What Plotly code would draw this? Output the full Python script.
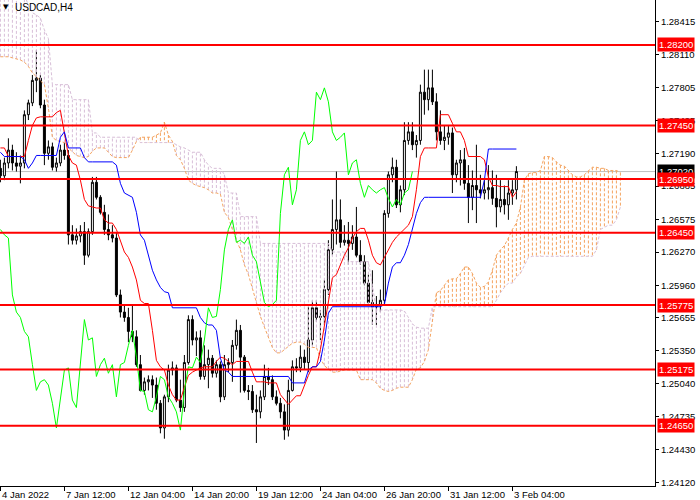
import plotly.graph_objects as go

# ---------------- data (USDCAD, H4) ----------------
open_ = [1.2705, 1.2698, 1.2710, 1.2722, 1.2710, 1.2707, 1.2710, 1.2755, 1.2766, 1.2787,
         1.2789, 1.2764, 1.2719, 1.2725, 1.2706, 1.2710, 1.2722, 1.2717, 1.2643, 1.2638,
         1.2642, 1.2646, 1.2624, 1.2646, 1.2692, 1.2678, 1.2664, 1.2648, 1.2643, 1.2640,
         1.2587, 1.2571, 1.2566, 1.2553, 1.2548, 1.2522, 1.2498, 1.2506, 1.2508, 1.2503,
         1.2486, 1.2463, 1.2492, 1.2517, 1.2519, 1.2489, 1.2482, 1.2524, 1.2564, 1.2545,
         1.2547, 1.2511, 1.2522, 1.2528, 1.2514, 1.2522, 1.2492, 1.2522, 1.2524, 1.2540,
         1.2554, 1.2529, 1.2498, 1.2497, 1.2480, 1.2478, 1.2492, 1.2511, 1.2508, 1.2492,
         1.2486, 1.2478, 1.2461, 1.2498, 1.2520, 1.2519, 1.2529, 1.2524, 1.2545, 1.2575,
         1.2566, 1.2567, 1.2592, 1.2629, 1.2648, 1.2657, 1.2636, 1.2638, 1.2635, 1.2641,
         1.2624, 1.2618, 1.2598, 1.2580, 1.2576, 1.2578, 1.2582, 1.2663, 1.2699, 1.2706,
         1.2671, 1.2685, 1.2731, 1.2739, 1.2727, 1.2731, 1.2776, 1.2769, 1.2780, 1.2767,
         1.2739, 1.2731, 1.2734, 1.2738, 1.2699, 1.2710, 1.2713, 1.2691, 1.2678, 1.2689,
         1.2685, 1.2682, 1.2685, 1.2687, 1.2677, 1.2669, 1.2676, 1.2671, 1.2682, 1.2685]
high = [1.2713, 1.2715, 1.2733, 1.2727, 1.2720, 1.2717, 1.2759, 1.2769, 1.2792, 1.2815,
        1.2792, 1.2769, 1.2731, 1.2729, 1.2715, 1.2727, 1.2729, 1.2722, 1.2652, 1.2649,
        1.2652, 1.2655, 1.2649, 1.2697, 1.2697, 1.2680, 1.2671, 1.2662, 1.2652, 1.2645,
        1.2592, 1.2578, 1.2575, 1.2577, 1.2554, 1.2531, 1.2510, 1.2512, 1.2512, 1.2510,
        1.2489, 1.2494, 1.2522, 1.2525, 1.2522, 1.2508, 1.2531, 1.2568, 1.2568, 1.2553,
        1.2554, 1.2540, 1.2536, 1.2531, 1.2526, 1.2525, 1.2531, 1.2528, 1.2545, 1.2564,
        1.2559, 1.2531, 1.2503, 1.2503, 1.2494, 1.2498, 1.2522, 1.2519, 1.2512, 1.2498,
        1.2491, 1.2485, 1.2508, 1.2526, 1.2528, 1.2540, 1.2536, 1.2576, 1.2582, 1.2582,
        1.2573, 1.2601, 1.2638, 1.2676, 1.2702, 1.2676, 1.2652, 1.2655, 1.2652, 1.2669,
        1.2638, 1.2624, 1.2606, 1.2610, 1.2586, 1.2592, 1.2666, 1.2702, 1.2715, 1.2713,
        1.2689, 1.2748, 1.2748, 1.2748, 1.2736, 1.2783, 1.2797, 1.2797, 1.2797, 1.2775,
        1.2759, 1.2745, 1.2745, 1.2743, 1.2713, 1.2722, 1.2724, 1.2708, 1.2703, 1.2727,
        1.2699, 1.2694, 1.2708, 1.2703, 1.2699, 1.2694, 1.2689, 1.2694, 1.2694, 1.2707]
low = [1.2692, 1.2694, 1.2705, 1.2703, 1.2702, 1.2691, 1.2705, 1.2750, 1.2763, 1.2776,
       1.2761, 1.2708, 1.2713, 1.2703, 1.2702, 1.2707, 1.2713, 1.2634, 1.2634, 1.2634,
       1.2636, 1.2615, 1.2622, 1.2643, 1.2676, 1.2662, 1.2643, 1.2638, 1.2636, 1.2585,
       1.2566, 1.2562, 1.2543, 1.2543, 1.2520, 1.2497, 1.2494, 1.2498, 1.2491, 1.2480,
       1.2458, 1.2453, 1.2487, 1.2512, 1.2487, 1.2478, 1.2478, 1.2522, 1.2540, 1.2530,
       1.2508, 1.2508, 1.2500, 1.2510, 1.2510, 1.2487, 1.2489, 1.2515, 1.2506, 1.2536,
       1.2496, 1.2496, 1.2489, 1.2477, 1.2449, 1.2472, 1.2489, 1.2503, 1.2489, 1.2484,
       1.2472, 1.2452, 1.2455, 1.2497, 1.2515, 1.2515, 1.2517, 1.2515, 1.2540, 1.2562,
       1.2545, 1.2559, 1.2587, 1.2624, 1.2634, 1.2631, 1.2633, 1.2615, 1.2629, 1.2622,
       1.2615, 1.2596, 1.2578, 1.2559, 1.2559, 1.2571, 1.2578, 1.2659, 1.2692, 1.2668,
       1.2664, 1.2680, 1.2727, 1.2722, 1.2715, 1.2727, 1.2755, 1.2759, 1.2764, 1.2731,
       1.2727, 1.2722, 1.2727, 1.2682, 1.2692, 1.2689, 1.2685, 1.2654, 1.2666, 1.2654,
       1.2677, 1.2676, 1.2676, 1.2671, 1.2650, 1.2664, 1.2662, 1.2657, 1.2671, 1.2676]
close = [1.2698, 1.2710, 1.2722, 1.2710, 1.2707, 1.2710, 1.2755, 1.2766, 1.2787, 1.2789,
         1.2764, 1.2719, 1.2725, 1.2706, 1.2710, 1.2722, 1.2717, 1.2643, 1.2638, 1.2642,
         1.2646, 1.2624, 1.2646, 1.2692, 1.2678, 1.2664, 1.2648, 1.2643, 1.2640, 1.2587,
         1.2571, 1.2566, 1.2553, 1.2548, 1.2522, 1.2498, 1.2506, 1.2508, 1.2503, 1.2486,
         1.2463, 1.2492, 1.2517, 1.2519, 1.2489, 1.2482, 1.2524, 1.2564, 1.2545, 1.2547,
         1.2511, 1.2522, 1.2528, 1.2514, 1.2522, 1.2492, 1.2522, 1.2524, 1.2540, 1.2554,
         1.2529, 1.2498, 1.2497, 1.2480, 1.2478, 1.2492, 1.2511, 1.2508, 1.2492, 1.2486,
         1.2478, 1.2461, 1.2498, 1.2520, 1.2519, 1.2529, 1.2524, 1.2545, 1.2575, 1.2566,
         1.2567, 1.2592, 1.2629, 1.2648, 1.2657, 1.2636, 1.2638, 1.2635, 1.2641, 1.2624,
         1.2618, 1.2598, 1.2580, 1.2576, 1.2578, 1.2582, 1.2663, 1.2699, 1.2706, 1.2671,
         1.2685, 1.2731, 1.2739, 1.2727, 1.2731, 1.2776, 1.2769, 1.2780, 1.2767, 1.2739,
         1.2731, 1.2734, 1.2738, 1.2699, 1.2710, 1.2713, 1.2691, 1.2678, 1.2689, 1.2685,
         1.2682, 1.2685, 1.2687, 1.2677, 1.2669, 1.2676, 1.2671, 1.2682, 1.2685, 1.2702]

tenkan = [1.2724, 1.2724, 1.2716, 1.2716, 1.2716, 1.2716, 1.2716, 1.2731, 1.2745, 1.2752,
          1.2753, 1.2753, 1.2753, 1.2753, 1.2757, 1.2759, 1.2738, 1.2717, 1.2710, 1.2708,
          1.2694, 1.2676, 1.2670, 1.2669, 1.2668, 1.2668, 1.2657, 1.2654, 1.2654, 1.2648,
          1.2638, 1.2627, 1.2622, 1.2613, 1.2601, 1.2582, 1.2579, 1.2579, 1.2554, 1.2526,
          1.2520, 1.2517, 1.2503, 1.2494, 1.2489, 1.2489, 1.2501, 1.2512, 1.2515, 1.2517,
          1.2519, 1.2520, 1.2520, 1.2520, 1.2525, 1.2529, 1.2528, 1.2525, 1.2522, 1.2525,
          1.2525, 1.2525, 1.2525, 1.2515, 1.2506, 1.2506, 1.2506, 1.2505, 1.2505, 1.2505,
          1.2494, 1.2489, 1.2485, 1.2489, 1.2493, 1.2493, 1.2503, 1.2512, 1.2520, 1.2520,
          1.2536, 1.2559, 1.2578, 1.2603, 1.2606, 1.2615, 1.2624, 1.2631, 1.2640, 1.2646,
          1.2649, 1.2649, 1.2638, 1.2624, 1.2617, 1.2615, 1.2622, 1.2629, 1.2636, 1.2641,
          1.2645, 1.2648, 1.2652, 1.2660, 1.2685, 1.2716, 1.2724, 1.2724, 1.2724, 1.2724,
          1.2755, 1.2755, 1.2755, 1.2747, 1.2739, 1.2739, 1.2731, 1.2716, 1.2716, 1.2716,
          1.2716, 1.2713, 1.2697, 1.2689, 1.2689, 1.2688, 1.2688, 1.2688, 1.2678, 1.2683]
kijun = [1.2720, 1.2716, 1.2716, 1.2716, 1.2716, 1.2716, 1.2713, 1.2705, 1.2710, 1.2717,
         1.2717, 1.2717, 1.2717, 1.2717, 1.2717, 1.2734, 1.2739, 1.2724, 1.2724, 1.2724,
         1.2724, 1.2715, 1.2711, 1.2711, 1.2711, 1.2711, 1.2711, 1.2711, 1.2711, 1.2708,
         1.2691, 1.2682, 1.2680, 1.2678, 1.2664, 1.2643, 1.2638, 1.2624, 1.2610, 1.2601,
         1.2594, 1.2590, 1.2589, 1.2575, 1.2575, 1.2575, 1.2575, 1.2575, 1.2575, 1.2575,
         1.2566, 1.2561, 1.2559, 1.2559, 1.2554, 1.2528, 1.2517, 1.2515, 1.2511, 1.2511,
         1.2511, 1.2511, 1.2511, 1.2511, 1.2511, 1.2511, 1.2511, 1.2511, 1.2511, 1.2511,
         1.2511, 1.2511, 1.2511, 1.2505, 1.2505, 1.2505, 1.2505, 1.2517, 1.2520, 1.2520,
         1.2525, 1.2545, 1.2570, 1.2576, 1.2576, 1.2576, 1.2576, 1.2576, 1.2576, 1.2576,
         1.2576, 1.2576, 1.2576, 1.2576, 1.2576, 1.2576, 1.2578, 1.2598, 1.2613, 1.2617,
         1.2617, 1.2624, 1.2634, 1.2648, 1.2663, 1.2673, 1.2678, 1.2678, 1.2678, 1.2678,
         1.2678, 1.2678, 1.2678, 1.2678, 1.2678, 1.2678, 1.2678, 1.2678, 1.2678, 1.2678,
         1.2678, 1.2694, 1.2723, 1.2723, 1.2723, 1.2723, 1.2723, 1.2723, 1.2723, 1.2723]
span_a = [1.2809, 1.2809, 1.2809, 1.2808, 1.2807, 1.2806, 1.2804, 1.2800, 1.2794, 1.2790,
          1.2787, 1.2783, 1.2761, 1.2734, 1.2731, 1.2730, 1.2729, 1.2724, 1.2720, 1.2717,
          1.2716, 1.2715, 1.2716, 1.2721, 1.2724, 1.2724, 1.2724, 1.2720, 1.2716, 1.2715,
          1.2715, 1.2715, 1.2715, 1.2722, 1.2730, 1.2734, 1.2734, 1.2734, 1.2734, 1.2736,
          1.2738, 1.2748, 1.2736, 1.2730, 1.2717, 1.2713, 1.2705, 1.2694, 1.2691, 1.2689,
          1.2688, 1.2687, 1.2685, 1.2682, 1.2682, 1.2681, 1.2664, 1.2659, 1.2648, 1.2638,
          1.2629, 1.2615, 1.2606, 1.2593, 1.2579, 1.2567, 1.2557, 1.2548, 1.2538, 1.2533,
          1.2533, 1.2536, 1.2539, 1.2542, 1.2543, 1.2543, 1.2541, 1.2538, 1.2538, 1.2538,
          1.2528, 1.2521, 1.2518, 1.2515, 1.2515, 1.2516, 1.2517, 1.2517, 1.2517, 1.2517,
          1.2508, 1.2508, 1.2508, 1.2508, 1.2505, 1.2500, 1.2498, 1.2497, 1.2498, 1.2500,
          1.2501, 1.2501, 1.2501, 1.2508, 1.2518, 1.2519, 1.2525, 1.2536, 1.2562, 1.2589,
          1.2591, 1.2596, 1.2601, 1.2602, 1.2602, 1.2607, 1.2613, 1.2613, 1.2607, 1.2598,
          1.2594, 1.2595, 1.2599, 1.2610, 1.2624, 1.2629, 1.2633, 1.2640, 1.2648, 1.2654,
          1.2669, 1.2694, 1.2700, 1.2701, 1.2701, 1.2703, 1.2716, 1.2716, 1.2715, 1.2711,
          1.2708, 1.2707, 1.2703, 1.2699, 1.2697, 1.2697, 1.2699, 1.2703, 1.2706, 1.2706,
          1.2705, 1.2705, 1.2703, 1.2703, 1.2703, 1.2701]
span_b = [1.2869, 1.2869, 1.2869, 1.2869, 1.2869, 1.2869, 1.2867, 1.2857, 1.2850, 1.2848,
          1.2845, 1.2834, 1.2826, 1.2783, 1.2783, 1.2783, 1.2783, 1.2783, 1.2769, 1.2769,
          1.2769, 1.2769, 1.2769, 1.2738, 1.2738, 1.2734, 1.2734, 1.2734, 1.2734, 1.2734,
          1.2734, 1.2734, 1.2734, 1.2734, 1.2734, 1.2729, 1.2729, 1.2729, 1.2729, 1.2729,
          1.2729, 1.2729, 1.2729, 1.2729, 1.2727, 1.2725, 1.2724, 1.2722, 1.2720, 1.2720,
          1.2720, 1.2713, 1.2708, 1.2705, 1.2705, 1.2705, 1.2699, 1.2682, 1.2682, 1.2682,
          1.2660, 1.2660, 1.2660, 1.2660, 1.2660, 1.2635, 1.2635, 1.2635, 1.2635, 1.2635,
          1.2635, 1.2635, 1.2635, 1.2635, 1.2635, 1.2635, 1.2635, 1.2635, 1.2635, 1.2635,
          1.2635, 1.2635, 1.2635, 1.2627, 1.2627, 1.2627, 1.2627, 1.2618, 1.2618, 1.2618,
          1.2618, 1.2618, 1.2618, 1.2596, 1.2573, 1.2573, 1.2573, 1.2573, 1.2573, 1.2573,
          1.2573, 1.2572, 1.2566, 1.2560, 1.2557, 1.2556, 1.2556, 1.2556, 1.2576, 1.2576,
          1.2576, 1.2576, 1.2576, 1.2576, 1.2576, 1.2576, 1.2576, 1.2576, 1.2576, 1.2576,
          1.2576, 1.2576, 1.2576, 1.2576, 1.2582, 1.2589, 1.2594, 1.2598, 1.2598, 1.2604,
          1.2607, 1.2615, 1.2622, 1.2623, 1.2623, 1.2623, 1.2623, 1.2623, 1.2623, 1.2623,
          1.2623, 1.2623, 1.2623, 1.2623, 1.2623, 1.2623, 1.2623, 1.2623, 1.2623, 1.2629,
          1.2648, 1.2650, 1.2652, 1.2652, 1.2657, 1.2669]
chikou_shift = 26

levels = [1.28200, 1.27450, 1.26950, 1.26450, 1.25775, 1.25175, 1.24650]
last_price = 1.27020
price_ticks = [1.28415, 1.28110, 1.27805, 1.27495, 1.27190, 1.26885, 1.26575, 1.26270,
               1.25960, 1.25655, 1.25350, 1.25040, 1.24735, 1.24430, 1.24120]
time_tick_bars = [0, 16, 32, 48, 64, 80, 96, 112, 128]
time_tick_text = ["4 Jan 2022", "7 Jan 12:00", "12 Jan 04:00", "14 Jan 20:00", "19 Jan 12:00",
                  "24 Jan 04:00", "26 Jan 20:00", "31 Jan 12:00", "3 Feb 04:00"]
symbol_title = "USDCAD,H4"

# ---------------- figure ----------------
FONT = "Liberation Sans, Arial, sans-serif"
bars = list(range(len(close)))
cloud_bars = list(range(len(span_a)))

fig = go.Figure()

fig.add_trace(go.Candlestick(
    x=bars, open=open_, high=high, low=low, close=close,
    increasing=dict(line=dict(color="black", width=1), fillcolor="white"),
    decreasing=dict(line=dict(color="black", width=1), fillcolor="black"),
    whiskerwidth=0, showlegend=False, hoverinfo="skip"))

# cloud hatching (vertical dashed lines between span A and span B)
ux, uy, dx, dy = [], [], [], []
for i, a, b in zip(cloud_bars, span_a, span_b):
    if a >= b:
        ux += [i, i, None]; uy += [a, b, None]
    else:
        dx += [i, i, None]; dy += [a, b, None]
fig.add_trace(go.Scatter(x=ux, y=uy, mode="lines", connectgaps=False,
                         line=dict(color="#F4A460", width=1, dash="3px,2px"),
                         showlegend=False, hoverinfo="skip"))
fig.add_trace(go.Scatter(x=dx, y=dy, mode="lines", connectgaps=False,
                         line=dict(color="#D8BFD8", width=1, dash="3px,2px"),
                         showlegend=False, hoverinfo="skip"))
fig.add_trace(go.Scatter(x=cloud_bars, y=span_a, mode="lines",
                         line=dict(color="#F4A460", width=1, dash="3px,2px"),
                         showlegend=False, hoverinfo="skip"))
fig.add_trace(go.Scatter(x=cloud_bars, y=span_b, mode="lines",
                         line=dict(color="#D8BFD8", width=1, dash="3px,2px"),
                         showlegend=False, hoverinfo="skip"))

fig.add_trace(go.Scatter(x=bars, y=tenkan, mode="lines",
                         line=dict(color="#FF0000", width=1), showlegend=False, hoverinfo="skip"))
fig.add_trace(go.Scatter(x=bars, y=kijun, mode="lines",
                         line=dict(color="#0000FF", width=1), showlegend=False, hoverinfo="skip"))
fig.add_trace(go.Scatter(x=[b - chikou_shift for b in bars[chikou_shift:]],
                         y=close[chikou_shift:], mode="lines",
                         line=dict(color="#00FF00", width=1), showlegend=False, hoverinfo="skip"))

shapes = [dict(type="line", xref="paper", x0=0, x1=1, yref="y", y0=last_price, y1=last_price,
               line=dict(color="#C0C0C0", width=1), layer="below")]
for lv in levels:
    shapes.append(dict(type="line", xref="paper", x0=0, x1=1, yref="y", y0=lv, y1=lv,
                       line=dict(color="#FF0000", width=2), layer="above"))

annotations = []
annotations.append(dict(x=1, xref="paper", xanchor="left", xshift=2, y=last_price, yref="y",
                        yanchor="middle", text=f"{last_price:.5f}", showarrow=False,
                        bgcolor="#000000", borderpad=1,
                        font=dict(family=FONT, size=9.5, color="white")))
for lv in levels:
    annotations.append(dict(x=1, xref="paper", xanchor="left", xshift=2, y=lv, yref="y",
                            yanchor="middle", text=f"{lv:.5f}", showarrow=False,
                            bgcolor="#FF0000", borderpad=1,
                            font=dict(family=FONT, size=9.5, color="white")))
for b, t in zip(time_tick_bars, time_tick_text):
    annotations.append(dict(x=b, xref="x", xanchor="left", xshift=0, y=0, yref="paper",
                            yanchor="top", yshift=-1, text=t, showarrow=False,
                            font=dict(family=FONT, size=9.5, color="black")))
annotations.append(dict(x=0, xref="paper", xanchor="left", xshift=1, y=1, yref="paper",
                        yanchor="top", yshift=-1, text="▼", showarrow=False,
                        font=dict(family="DejaVu Sans", size=7, color="black")))
annotations.append(dict(x=0, xref="paper", xanchor="left", xshift=13, y=1, yref="paper",
                        yanchor="top", yshift=0, text=symbol_title, showarrow=False,
                        font=dict(family=FONT, size=10, color="black")))

fig.update_layout(
    width=700, height=500,
    margin=dict(l=0, r=45, t=0, b=14, pad=0),
    paper_bgcolor="white", plot_bgcolor="white",
    showlegend=False,
    shapes=shapes, annotations=annotations,
    xaxis=dict(range=[-0.1, 163.65], tickvals=time_tick_bars, ticks="outside", ticklen=4,
               tickcolor="black", showticklabels=False, showline=True, linecolor="black",
               linewidth=1, showgrid=False, zeroline=False, rangeslider=dict(visible=False),
               fixedrange=True),
    yaxis=dict(side="right", range=[1.24089, 1.28619], tickvals=price_ticks,
               ticktext=[f"{v:.5f}" for v in price_ticks], ticks="outside", ticklen=3,
               tickcolor="black", showline=True, linecolor="black", linewidth=1,
               showgrid=False, zeroline=False, fixedrange=True,
               tickfont=dict(family=FONT, size=9.5, color="black")),
)

fig.write_html("out.html", config={"displayModeBar": False},
               post_script="document.body.style.margin='0px';document.body.style.overflow='hidden';")
